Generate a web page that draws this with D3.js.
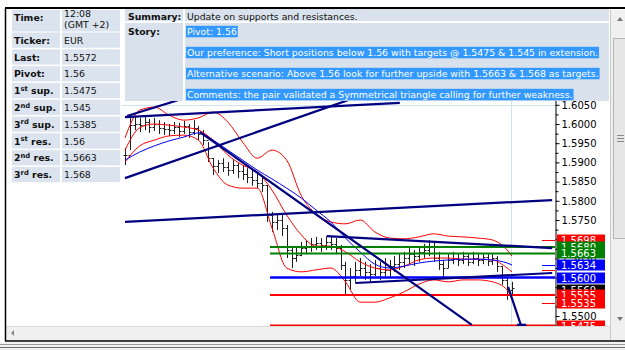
<!DOCTYPE html>
<html>
<head>
<meta charset="utf-8">
<script src="https://cdn.jsdelivr.net/npm/d3@7"></script>
<style>
body { margin: 0; background: #fff; }
svg { display: block; font-family: "DejaVu Sans", Verdana, sans-serif; }
</style>
</head>
<body>
<div id="chart"></div>
<script>
// quote table
var infoLabels = [["Time:", "", ""], ["Ticker:", "", ""], ["Last:", "", ""], ["Pivot:", "", ""],
    ["1", "st", " sup."], ["2", "nd", " sup."], ["3", "rd", " sup."],
    ["1", "st", " res."], ["2", "nd", " res."], ["3", "rd", " res."]];
var infoValues = [["12:08", "(GMT +2)"], ["EUR"], ["1.5572"], ["1.56"], ["1.5475"], ["1.545"],
    ["1.5385"], ["1.56"], ["1.5663"], ["1.568"]];
var summaryText = "Update on supports and resistances.";
var storyLines = ["Pivot: 1.56",
    "Our preference: Short positions below 1.56 with targets @ 1.5475 & 1.545 in extension.",
    "Alternative scenario: Above 1.56 look for further upside with 1.5663 & 1.568 as targets.",
    "Comments: the pair validated a Symmetrical triangle calling for further weakness."];

// price bars
var highs = [1.5938,1.6016,1.6021,1.6016,1.6018,1.6013,1.6016,1.6010,1.6005,1.6000,
    1.6005,1.6003,1.6008,1.6000,1.6010,1.5995,1.5984,1.5953,1.5911,1.5906,
    1.5911,1.5901,1.5906,1.5898,1.5893,1.5885,1.5880,1.5870,1.5865,1.5841,
    1.5771,1.5766,1.5763,1.5737,1.5677,1.5680,1.5693,1.5698,1.5703,1.5706,
    1.5703,1.5708,1.5706,1.5703,1.5685,1.5641,1.5625,1.5641,1.5651,1.5641,
    1.5635,1.5646,1.5641,1.5651,1.5646,1.5656,1.5661,1.5667,1.5677,1.5672,
    1.5682,1.5688,1.5698,1.5693,1.5667,1.5646,1.5661,1.5667,1.5661,1.5667,
    1.5661,1.5667,1.5661,1.5664,1.5661,1.5664,1.5656,1.5630,1.5599,1.5589];
var lows = [1.5893,1.5932,1.5984,1.5979,1.5984,1.5977,1.5982,1.5974,1.5971,1.5969,
    1.5974,1.5966,1.5974,1.5964,1.5971,1.5958,1.5945,1.5901,1.5867,1.5872,
    1.5875,1.5865,1.5870,1.5859,1.5854,1.5846,1.5839,1.5833,1.5823,1.5745,
    1.5719,1.5724,1.5708,1.5651,1.5625,1.5641,1.5656,1.5661,1.5667,1.5672,
    1.5667,1.5672,1.5672,1.5661,1.5620,1.5557,1.5568,1.5589,1.5604,1.5594,
    1.5589,1.5604,1.5594,1.5604,1.5599,1.5615,1.5620,1.5625,1.5635,1.5630,
    1.5641,1.5651,1.5656,1.5641,1.5620,1.5599,1.5625,1.5635,1.5630,1.5635,
    1.5630,1.5635,1.5630,1.5635,1.5630,1.5633,1.5615,1.5581,1.5542,1.5552];
var closes = [1.5919,1.5997,1.6000,1.5997,1.6005,1.5992,1.6000,1.5990,1.5987,1.5984,
    1.5992,1.5982,1.5995,1.5979,1.5990,1.5974,1.5958,1.5911,1.5891,1.5898,
    1.5888,1.5880,1.5893,1.5878,1.5870,1.5862,1.5854,1.5846,1.5841,1.5763,
    1.5745,1.5750,1.5729,1.5672,1.5651,1.5659,1.5677,1.5682,1.5688,1.5690,
    1.5685,1.5693,1.5688,1.5677,1.5633,1.5594,1.5604,1.5620,1.5625,1.5615,
    1.5609,1.5625,1.5615,1.5620,1.5630,1.5635,1.5641,1.5651,1.5661,1.5656,
    1.5667,1.5672,1.5682,1.5651,1.5635,1.5625,1.5646,1.5651,1.5646,1.5656,
    1.5641,1.5651,1.5646,1.5654,1.5643,1.5651,1.5630,1.5594,1.5568,1.5573];

// bollinger bands + moving average, read every 3rd bar
var bandIdx = [0,3,6,9,12,15,18,21,24,27,30,33,36,39,42,45,48,51,54,57,60,63,66,69,72,75,78,79];
var upperBand = [1.5964,1.6036,1.6044,1.6023,1.6010,1.6016,1.6031,1.6005,1.5953,1.5911,1.5932,1.5906,1.5813,1.5766,
    1.5745,1.5740,1.5750,1.5719,1.5703,1.5701,1.5706,1.5714,1.5708,1.5706,1.5703,1.5698,1.5672,1.5656];
var middleBand = [1.5932,1.5990,1.6000,1.5997,1.5992,1.5984,1.5958,1.5919,1.5893,1.5875,1.5828,1.5763,1.5711,1.5682,
    1.5682,1.5667,1.5641,1.5625,1.5620,1.5630,1.5646,1.5651,1.5651,1.5648,1.5648,1.5646,1.5625,1.5615];
var lowerBand = [1.5901,1.5943,1.5958,1.5969,1.5971,1.5958,1.5885,1.5841,1.5833,1.5833,1.5729,1.5625,1.5615,1.5620,
    1.5625,1.5589,1.5536,1.5536,1.5547,1.5563,1.5583,1.5594,1.5589,1.5594,1.5594,1.5589,1.5568,1.5542];
var maLine = [1.5906,1.5927,1.5943,1.5956,1.5966,1.5977,1.5958,1.5932,1.5906,1.5880,1.5857,1.5833,1.5807,1.5776,
    1.5745,1.5703,1.5667,1.5635,1.5625,1.5630,1.5638,1.5643,1.5646,1.5648,1.5648,1.5646,1.5638,1.5633];

// trendlines: [bar1, price1, bar2, price2]
var trendLines = [[0, 1.6018, 56.1, 1.6055], [0.4, 1.6021, 10.8, 1.6062], [0, 1.5859, 45.5, 1.6062],
    [15.3, 1.5979, 70.8, 1.5477], [0, 1.5745, 87.2, 1.5802], [41.2, 1.5708, 87.2, 1.5677],
    [47, 1.5586, 87.2, 1.5612], [78.2, 1.5576, 80.8, 1.5477], [80, 1.5477, 81.9, 1.5477]];

var levelPrices = [1.5680, 1.5663, 1.5600, 1.5555, 1.5475];
var levelColors = ["#008000", "#008000", "#0000ff", "#ff0000", "#ff0000"];
var markPrices = [1.5698, 1.5634, 1.5620, 1.5535];
var markColors = ["#ff0000", "#0000ff", "#ff0000", "#ff0000"];
var tagPrices = [1.5698, 1.5680, 1.5663, 1.5634, 1.5600, 1.5569, 1.5555, 1.5535, 1.5475];
var tagColors = ["#ff0000", "#008000", "#008000", "#0000ff", "#0000ff", "#000000", "#ff0000", "#ff0000", "#ff0000"];
var tickPrices = [1.605, 1.600, 1.595, 1.590, 1.585, 1.580, 1.575, 1.570, 1.565, 1.560, 1.555, 1.550];
var timeGrid = [78.8];

var svg = d3.select("#chart").append("svg")
    .attr("width", 625)
    .attr("height", 350);

var x = d3.scaleLinear().domain([0, 79]).range([125, 512]);
var y = d3.scaleLinear().domain([1.545, 1.61]).range([335.2, 85.6]);

var defs = svg.append("defs");
defs.append("clipPath").attr("id", "plot").append("rect")
    .attr("x", 122).attr("y", 100).attr("width", 433).attr("height", 226);
defs.append("clipPath").attr("id", "scale").append("rect")
    .attr("x", 540).attr("y", 100).attr("width", 70).attr("height", 226);

var plot = svg.append("g").attr("clip-path", "url(#plot)");

// grid
plot.selectAll(".vgrid").data(timeGrid).enter().append("line")
    .attr("x1", d => Math.round(x(d)) + 0.5).attr("x2", d => Math.round(x(d)) + 0.5)
    .attr("y1", 100).attr("y2", 326)
    .attr("stroke", "#cfe3ea");
plot.append("line")
    .attr("x1", 122).attr("x2", 555)
    .attr("y1", Math.round(y(1.605)) + 0.5).attr("y2", Math.round(y(1.605)) + 0.5)
    .attr("stroke", "#cfe3ea");

// bars
var bars = plot.append("g").attr("stroke", "#1e1e1e").attr("stroke-width", 1);
highs.forEach(function (h, i) {
    var cx = Math.round(x(i)) + 0.5;
    var open = i > 0 ? closes[i - 1] : closes[i];
    bars.append("line").attr("x1", cx).attr("x2", cx).attr("y1", y(h)).attr("y2", y(lows[i]));
    bars.append("line").attr("x1", cx - 2).attr("x2", cx).attr("y1", Math.round(y(open)) + 0.5).attr("y2", Math.round(y(open)) + 0.5);
    bars.append("line").attr("x1", cx).attr("x2", cx + 2).attr("y1", Math.round(y(closes[i])) + 0.5).attr("y2", Math.round(y(closes[i])) + 0.5);
});

// indicators
var band = d3.line()
    .x(d => x(d[0]))
    .y(d => y(d[1]))
    .curve(d3.curveMonotoneX);
[upperBand, middleBand, lowerBand].forEach(function (b) {
    plot.append("path")
        .attr("d", band(bandIdx.map((k, j) => [k, b[j]])))
        .attr("fill", "none").attr("stroke", "#ff0000").attr("stroke-width", 1);
});
plot.append("path")
    .attr("d", band(bandIdx.map((k, j) => [k, maLine[j]])))
    .attr("fill", "none").attr("stroke", "#0000ff").attr("stroke-width", 1);

// horizontal levels
plot.selectAll(".level").data(levelPrices).enter().append("line")
    .attr("x1", x(29.6)).attr("x2", 555)
    .attr("y1", d => y(d)).attr("y2", d => y(d))
    .attr("stroke", (d, i) => levelColors[i])
    .attr("stroke-width", (d, i) => i == 2 ? 2.5 : 2);
plot.selectAll(".mark").data(markPrices).enter().append("line")
    .attr("x1", 542).attr("x2", 555)
    .attr("y1", d => Math.round(y(d)) + 0.5).attr("y2", d => Math.round(y(d)) + 0.5)
    .attr("stroke", (d, i) => markColors[i]);

// trendlines
plot.selectAll(".trend").data(trendLines).enter().append("line")
    .attr("x1", d => x(d[0])).attr("y1", d => y(d[1]))
    .attr("x2", d => x(d[2])).attr("y2", d => y(d[3]))
    .attr("stroke", "#000080").attr("stroke-width", 2.2);

// price scale
var scaleG = svg.append("g").attr("clip-path", "url(#scale)");
scaleG.append("g")
    .attr("transform", "translate(555.5,0)")
    .call(d3.axisRight(y).tickValues(tickPrices).tickSize(4).tickSizeOuter(0).tickPadding(2).tickFormat(d3.format(".4f")))
    .call(g => g.select(".domain").attr("stroke", "#000"))
    .call(g => g.selectAll("text").attr("font-size", 10).attr("font-family", "DejaVu Sans").attr("fill", "#000"));
scaleG.append("g")
    .attr("transform", "translate(555.5,0)")
    .call(d3.axisRight(y).tickValues(tickPrices.map(v => v - 0.0025)).tickSize(3).tickSizeOuter(0).tickFormat(""))
    .call(g => g.select(".domain").remove());

var tags = scaleG.selectAll(".tag").data(tagPrices).enter().append("g")
    .attr("transform", d => `translate(557,${Math.round(y(d)) - 5.5})`);
tags.append("rect")
    .attr("width", 48).attr("height", 11)
    .attr("fill", (d, i) => tagColors[i]);
tags.append("text")
    .attr("x", 4).attr("y", 9.5)
    .attr("font-size", 10).attr("fill", "#fff")
    .text(d => d.toFixed(4));

// story panel
var panel = svg.append("g");
panel.append("rect").attr("x", 125).attr("y", 9).attr("width", 484).attr("height", 92).attr("fill", "#d9e2ec");
panel.append("line").attr("x1", 125).attr("x2", 609).attr("y1", 22).attr("y2", 22).attr("stroke", "#fff").attr("stroke-width", 2);
panel.append("line").attr("x1", 184).attr("x2", 184).attr("y1", 9).attr("y2", 101).attr("stroke", "#fff").attr("stroke-width", 2);
panel.append("text").attr("x", 128).attr("y", 19.5).attr("font-size", 9.3).attr("font-weight", "bold").attr("fill", "#111").text("Summary:");
panel.append("text").attr("x", 187).attr("y", 19.5).attr("font-size", 9.3).attr("fill", "#111").text(summaryText);
panel.append("text").attr("x", 128).attr("y", 34.5).attr("font-size", 9.3).attr("font-weight", "bold").attr("fill", "#111").text("Story:");
storyLines.forEach(function (s, i) {
    var by = 34.5 + i * 21;
    var hl = panel.append("rect").attr("x", 186).attr("y", by - 8.7).attr("height", 11.5).attr("fill", "#3399ff");
    var t = panel.append("text").attr("x", 187).attr("y", by).attr("font-size", 9.35).attr("fill", "#fff").text(s);
    hl.attr("width", t.node().getComputedTextLength() + 2);
});

// quote table
var table = svg.append("g");
var rowTop = [10].concat(infoLabels.slice(1).map((d, i) => 32.5 + i * 16.8));
var rowH = [21.5].concat(infoLabels.slice(1).map(() => 15.3));
infoLabels.forEach(function (lab, i) {
    table.append("rect").attr("x", 12).attr("y", rowTop[i]).attr("width", 48).attr("height", rowH[i]).attr("fill", "#dbe4ee");
    table.append("rect").attr("x", 62).attr("y", rowTop[i]).attr("width", 58).attr("height", rowH[i]).attr("fill", "#dbe4ee");
    var by = i == 0 ? 20.5 : rowTop[i] + 11.3;
    var t = table.append("text").attr("x", 14).attr("y", by).attr("font-size", 9.4).attr("font-weight", "bold").attr("fill", "#111");
    t.append("tspan").text(lab[0]);
    if (lab[1]) {
        t.append("tspan").attr("dy", -3.5).attr("font-size", 6.8).text(lab[1]);
        t.append("tspan").attr("dy", 3.5).text(lab[2]);
    }
    infoValues[i].forEach(function (v, k) {
        table.append("text").attr("x", 64).attr("y", i == 0 ? 17 + k * 11 : by)
            .attr("font-size", 9.4).attr("fill", "#111").text(v);
    });
});

// scrollbars and window frame
svg.append("rect").attr("x", 6).attr("y", 326).attr("width", 604).attr("height", 14).attr("fill", "#f0f0f0");
svg.append("line").attr("x1", 6).attr("x2", 610).attr("y1", 326.5).attr("y2", 326.5).attr("stroke", "#dadada");
svg.append("path").attr("d", "M11,333 L14,330 L14,336 Z").attr("fill", "#888");
svg.append("path").attr("d", "M614,333 L611,330 L611,336 Z").attr("fill", "#888");
svg.append("rect").attr("x", 610).attr("y", 10).attr("width", 15).attr("height", 330).attr("fill", "#f0f0f0");
svg.append("line").attr("x1", 610.5).attr("x2", 610.5).attr("y1", 10).attr("y2", 340).attr("stroke", "#c8c8c8");
svg.append("rect").attr("x", 613.5).attr("y", 38.5).attr("width", 14).attr("height", 200).attr("fill", "#e6e6e6").attr("stroke", "#b4b4b4");
[135, 138, 141].forEach(v => svg.append("line").attr("x1", 617).attr("x2", 624).attr("y1", v + 0.5).attr("y2", v + 0.5).attr("stroke", "#888"));
svg.append("path").attr("d", "M620,17 L617,21 L623,21 Z").attr("fill", "#777");
svg.append("path").attr("d", "M620,321 L617,317 L623,317 Z").attr("fill", "#777");

svg.append("line").attr("x1", 5).attr("x2", 625).attr("y1", 8).attr("y2", 8).attr("stroke", "#000").attr("stroke-width", 2);
svg.append("line").attr("x1", 5.5).attr("x2", 5.5).attr("y1", 8).attr("y2", 341).attr("stroke", "#000").attr("stroke-width", 1.5);
svg.append("line").attr("x1", 5).attr("x2", 625).attr("y1", 341).attr("y2", 341).attr("stroke", "#000").attr("stroke-width", 1.5);
svg.append("rect").attr("x", 0).attr("y", 342).attr("width", 625).attr("height", 8).attr("fill", "#f2f2f2");
svg.append("line").attr("x1", 0).attr("x2", 625).attr("y1", 344.5).attr("y2", 344.5).attr("stroke", "#999");
svg.append("line").attr("x1", 0).attr("x2", 625).attr("y1", 347.5).attr("y2", 347.5).attr("stroke", "#6e6e6e");
</script>
</body>
</html>
